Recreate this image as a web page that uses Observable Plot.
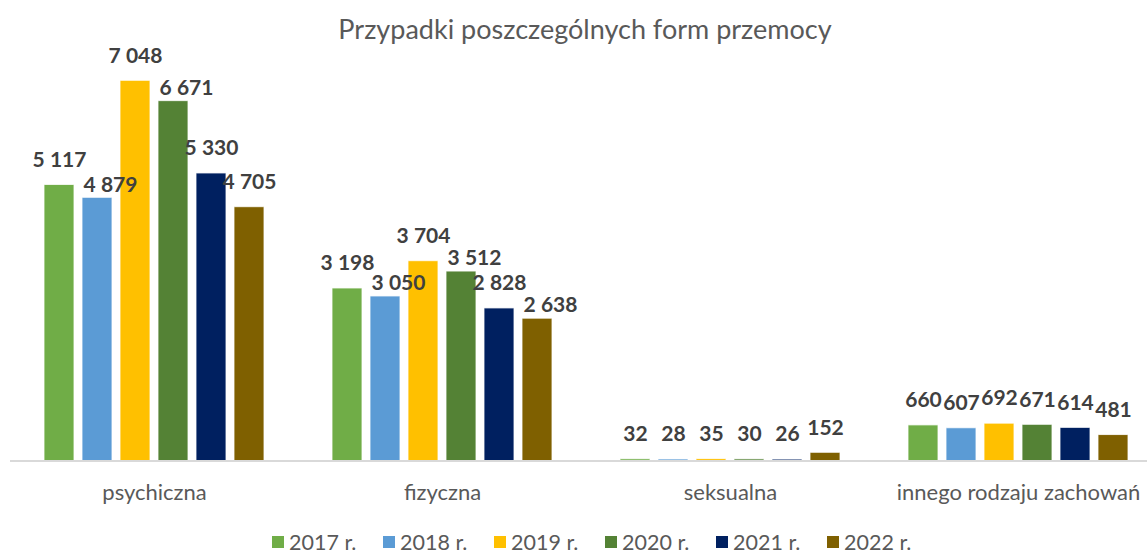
<!DOCTYPE html>
<html><head><meta charset="utf-8">
<script src="https://cdn.jsdelivr.net/npm/d3@7"></script>
<script src="https://cdn.jsdelivr.net/npm/@observablehq/plot@0.6"></script>
<style>
body{margin:0;background:#fff;font-family:Lato,"Open Sans",sans-serif;width:1147px;height:554px;overflow:hidden;}
#title{box-sizing:border-box;height:50px;padding-top:15px;padding-left:23px;text-align:center;font-size:27px;line-height:28px;color:#595959;}
#chart svg{display:block;overflow:visible;}
#legend{box-sizing:border-box;height:34px;padding-top:10px;padding-left:272px;display:flex;font-size:21.5px;line-height:21px;color:#595959;}
#legend .item{display:flex;align-items:center;gap:5px;width:111px;}
#legend .sw{width:12px;height:12px;display:inline-block;}
</style></head><body>
<div id="title">Przypadki poszczególnych form przemocy</div>
<div id="chart"></div>
<div id="legend"></div>
<script>
const categories = ["psychiczna", "fizyczna", "seksualna", "innego rodzaju zachowań"];
const years = ["2017 r.", "2018 r.", "2019 r.", "2020 r.", "2021 r.", "2022 r."];
const values2017 = [5117, 3198, 32, 660];
const values2018 = [4879, 3050, 28, 607];
const values2019 = [7048, 3704, 35, 692];
const values2020 = [6671, 3512, 30, 671];
const values2021 = [5330, 2828, 26, 614];
const values2022 = [4705, 2638, 152, 481];
const colors = ["#70AD47", "#5B9BD5", "#FFC000", "#548235", "#002060", "#7F6000"];

const series = [values2017, values2018, values2019, values2020, values2021, values2022];
const data = [];
categories.forEach((c, j) => {
  let prevShifted = true, prev = null;
  years.forEach((y, i) => {
    const v = series[i][j];
    // nudge a wide label aside when it would collide with its neighbour's label
    const shifted = !prevShifted && prev !== null && v >= 1000 && prev >= 1000 && Math.abs(v - prev) < 400;
    data.push({category: c, year: y, value: v, shifted});
    prevShifted = shifted; prev = v;
  });
});

const fmt = v => d3.format(",")(v).replace(/,/g, "\u00a0");
const labelStyle = {fx: "category", x: "year", y: "value", text: d => fmt(d.value), fontWeight: "bold", fontSize: 21, fill: "#404040"};

const chart = Plot.plot({
  width: 1147,
  height: 470,
  marginLeft: 10,
  marginRight: -15,
  marginTop: 30.3,
  marginBottom: 59.5,
  style: {fontFamily: "Lato, 'Open Sans', sans-serif", fontSize: "22px", color: "#595959", background: "white", overflow: "visible"},
  fx: {domain: categories, padding: 0, label: null, tickSize: 0, tickPadding: 23},
  x: {domain: years, paddingInner: 0.217, paddingOuter: 0.868, axis: null},
  y: {domain: [0, 7048], axis: null},
  color: {domain: years, range: colors},
  marks: [
    Plot.barY(data, {fx: "category", x: "year", y: "value", fill: "year", stroke: "white", strokeOpacity: 0.8, strokeWidth: 1}),
    Plot.ruleY([0], {stroke: "#d9d9d9", strokeWidth: 2}),
    Plot.text(data, {...labelStyle, filter: d => !d.shifted, dy: -25}),
    Plot.text(data, {...labelStyle, filter: d => d.shifted, dx: 13, dy: -13})
  ]
});
document.getElementById("chart").appendChild(chart);

const legend = document.getElementById("legend");
years.forEach((y, i) => {
  const item = document.createElement("span");
  item.className = "item";
  const sw = document.createElement("span");
  sw.className = "sw";
  sw.style.background = colors[i];
  const t = document.createElement("span");
  t.textContent = y;
  item.appendChild(sw);
  item.appendChild(t);
  legend.appendChild(item);
});
</script>
</body></html>
